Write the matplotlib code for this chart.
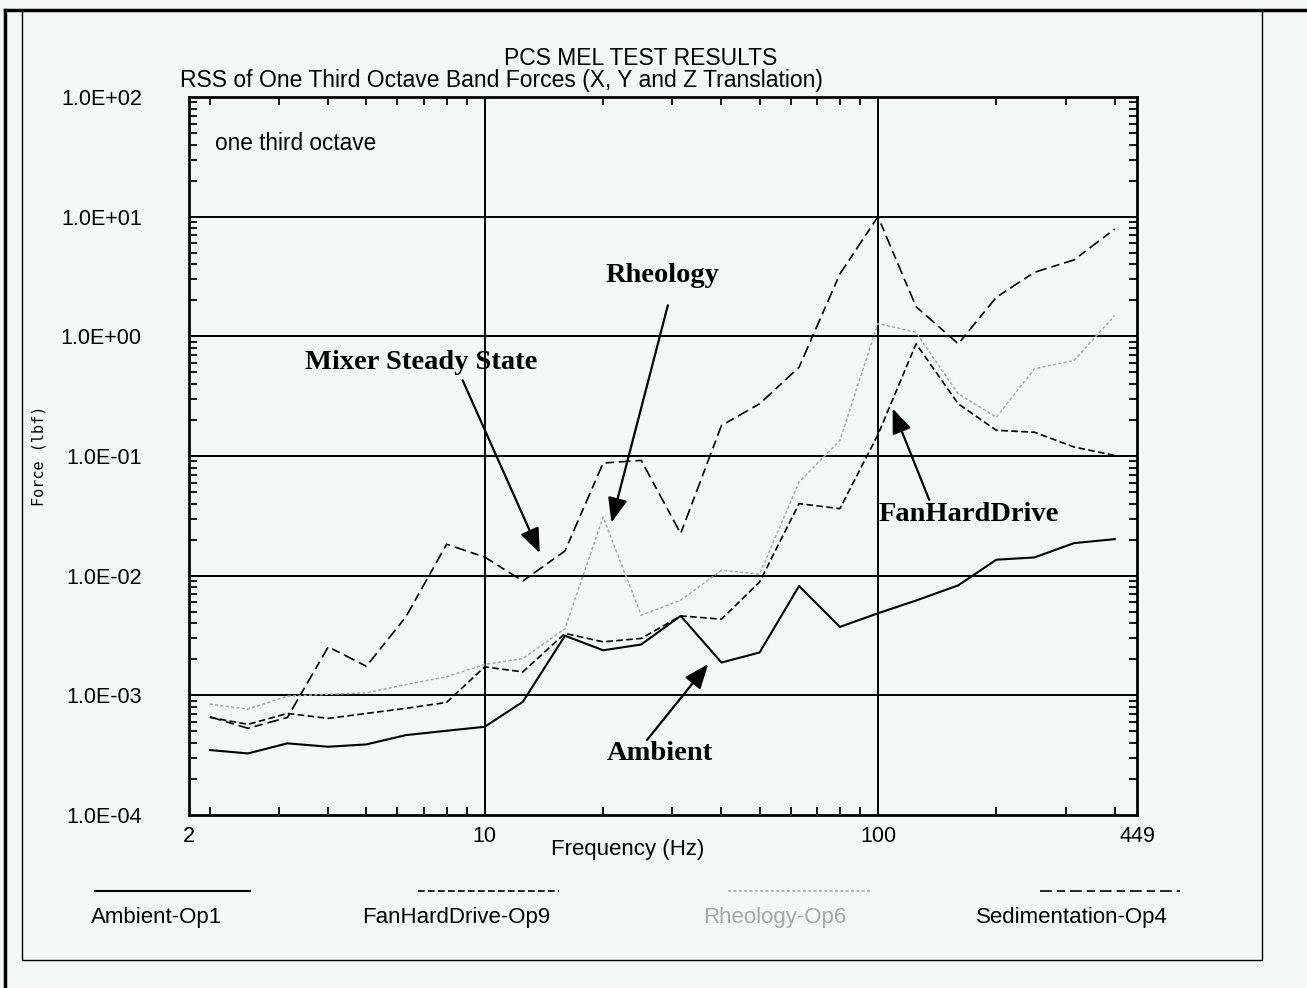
import matplotlib
matplotlib.use('Agg')
import matplotlib.pyplot as plt
from matplotlib.lines import Line2D
from matplotlib.ticker import FixedLocator, FixedFormatter, LogLocator, NullFormatter

# one third octave band centre frequencies (Hz)
freq = [2, 2.5, 3.15, 4, 5, 6.3, 8, 10, 12.5, 16, 20, 25, 31.5, 40, 50, 63,
        80, 100, 125, 160, 200, 250, 315, 400]

ambient = [3.49e-4, 3.27e-4, 3.97e-4, 3.72e-4, 3.89e-4, 4.65e-4, 5.06e-4, 5.46e-4,
           8.83e-4, 3.15e-3, 2.38e-3, 2.66e-3, 4.61e-3, 1.88e-3, 2.28e-3, 8.20e-3,
           3.73e-3, 4.85e-3, 6.2e-3, 8.3e-3, 1.36e-2, 1.42e-2, 1.87e-2, 2.02e-2]

fan_hd = [6.54e-4, 5.72e-4, 7.06e-4, 6.42e-4, 7.06e-4, 7.78e-4, 8.73e-4, 1.73e-3,
          1.57e-3, 3.29e-3, 2.80e-3, 2.99e-3, 4.61e-3, 4.33e-3, 8.85e-3, 4.00e-2,
          3.63e-2, 0.151, 0.866, 0.273, 0.164, 0.158, 0.119, 0.101]

rheology = [8.45e-4, 7.67e-4, 9.85e-4, 1.02e-3, 1.05e-3, 1.23e-3, 1.43e-3, 1.81e-3,
            2.03e-3, 3.61e-3, 3.09e-2, 4.67e-3, 6.23e-3, 1.11e-2, 1.03e-2, 6.05e-2,
            0.135, 1.28, 1.08, 0.331, 0.211, 0.535, 0.628, 1.49]

sediment = [6.62e-4, 5.30e-4, 6.54e-4, 2.54e-3, 1.75e-3, 4.52e-3, 1.83e-2, 1.43e-2,
            9.03e-3, 1.61e-2, 8.73e-2, 9.19e-2, 2.25e-2, 0.180, 0.273, 0.552,
            3.32, 10.0, 1.77, 0.866, 2.12, 3.43, 4.35, 7.89]

series_names = ['Ambient-Op1', 'FanHardDrive-Op9', 'Rheology-Op6', 'Sedimentation-Op4']
y_ticks = [1e-4, 1e-3, 1e-2, 1e-1, 1e0, 1e1, 1e2]
y_labels = ['1.0E-04', '1.0E-03', '1.0E-02', '1.0E-01', '1.0E+00', '1.0E+01', '1.0E+02']
x_lim = (1.77, 456)
x_labels = ['2', '10', '100', '449']

BG = '#f6f8f7'
GREY = '#a8a8a8'
SANS = ['Liberation Sans', 'DejaVu Sans']
SERIF = ['Liberation Serif', 'DejaVu Serif']

fig = plt.figure(figsize=(13.07, 9.88), dpi=100, facecolor=BG)
ax = fig.add_axes([0.1446, 0.1751, 0.7254, 0.7267], facecolor=BG)

styles = [
    dict(color='black', lw=1.5, ls='-'),
    dict(color='black', lw=1.2, ls=(0, (4, 2))),
    dict(color=GREY, lw=1.1, ls=(0, (2, 1.5))),
    dict(color='black', lw=1.2, ls=(0, (7, 3, 5, 3))),
]
for ys, st in zip([ambient, fan_hd, rheology, sediment], styles):
    ax.plot(freq, ys, **st)

ax.set_xscale('log')
ax.set_yscale('log')
ax.set_xlim(*x_lim)
ax.set_ylim(1e-4, 1e2)

# grid: decades only
for v in y_ticks[1:-1]:
    ax.axhline(v, color='black', lw=1.4, zorder=0.5)
for v in [10, 100]:
    ax.axvline(v, color='black', lw=1.4, zorder=0.5)

ax.xaxis.set_major_locator(FixedLocator([x_lim[0], 10, 100, x_lim[1]]))
ax.xaxis.set_major_formatter(FixedFormatter(x_labels))
ax.xaxis.set_minor_locator(LogLocator(base=10, subs=range(2, 10)))
ax.xaxis.set_minor_formatter(NullFormatter())
ax.yaxis.set_major_locator(FixedLocator(y_ticks))
ax.yaxis.set_major_formatter(FixedFormatter(y_labels))
ax.yaxis.set_minor_locator(LogLocator(base=10, subs=range(2, 10)))
ax.yaxis.set_minor_formatter(NullFormatter())

ax.tick_params(which='both', direction='in', top=True, right=True, width=1.3)
ax.tick_params(which='major', length=0, labelsize=15.5)
ax.tick_params(which='minor', length=6)
ax.tick_params(axis='y', which='major', pad=34)
ax.tick_params(axis='x', which='major', pad=8)
for lab in ax.get_xticklabels() + ax.get_yticklabels():
    lab.set_family(SANS)
for s in ax.spines.values():
    s.set_linewidth(2)

ax.set_xlabel('Frequency (Hz)', fontsize=16, family=SANS)
ax.xaxis.set_label_coords(0.463, -0.034)
ax.set_ylabel('Force (lbf)', fontsize=11, family=['DejaVu Sans Mono'], labelpad=10)

# titles (they sit almost on top of each other in the original)
fig.text(0.490, 0.941, 'PCS MEL TEST RESULTS', ha='center', va='center', fontsize=16.5, family=SANS)
fig.text(0.384, 0.919, 'RSS of One Third Octave Band Forces (X, Y and Z Translation)',
         ha='center', va='center', fontsize=16.5, family=SANS)

ax.text(0.027, 0.935, 'one third octave', transform=ax.transAxes, fontsize=16.3, family=SANS,
        va='center')

# annotations
arrow = dict(arrowstyle='-|>,head_length=1.5,head_width=0.6', color='black', lw=1.6,
             shrinkA=0, shrinkB=0)
notes = [
    ('Rheology', 21.0, rheology[10] * 0.9, (0.507, 0.721), (0.511, 0.691)),
    ('Mixer Steady State', 13.8, sediment[9] * 0.96, (0.322, 0.633), (0.354, 0.615)),
    ('FanHardDrive', 109, fan_hd[17] * 1.65, (0.741, 0.479), (0.711, 0.494)),
    ('Ambient', 37, ambient[13] * 0.97, (0.505, 0.237), (0.495, 0.251)),
]
for txt, fx, fy, tpos, apos in notes:
    fig.text(tpos[0], tpos[1], txt, ha='center', va='center', fontsize=20.5,
             fontweight='bold', family=SERIF)
    ax.annotate('', xy=(fx, fy), xycoords='data', xytext=apos, textcoords='figure fraction',
                arrowprops=arrow)

# legend row under the plot
line_x = [(0.073, 0.191), (0.320, 0.428), (0.557, 0.666), (0.796, 0.903)]
text_x = [0.120, 0.349, 0.593, 0.820]
for (x0, x1), tx, name, st in zip(line_x, text_x, series_names, styles):
    fig.add_artist(Line2D([x0, x1], [0.098, 0.098], transform=fig.transFigure, **st))
    fig.text(tx, 0.071, name, ha='center', va='center', fontsize=16,
             family=SANS, color=GREY if 'Rheology' in name else 'black')

# page frame
fig.add_artist(Line2D([0.004, 1.0], [0.990, 0.990], transform=fig.transFigure, color='black', lw=2.5))
fig.add_artist(Line2D([0.004, 0.004], [0.0, 0.990], transform=fig.transFigure, color='black', lw=2.5))
fig.add_artist(Line2D([0.017, 0.017, 0.9655, 0.9655, 0.017], [0.990, 0.028, 0.028, 0.990, 0.990],
                      transform=fig.transFigure, color='black', lw=1.0))

fig.savefig('out.png', dpi=100, facecolor=BG)
